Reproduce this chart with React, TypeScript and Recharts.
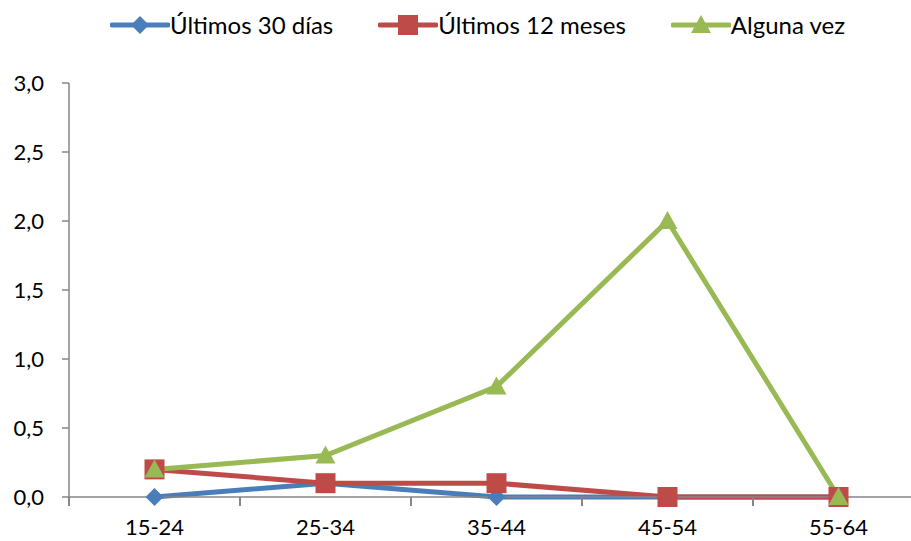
import { LineChart, Line, XAxis, YAxis, Legend } from 'recharts'

const categories = ['15-24', '25-34', '35-44', '45-54', '55-64']
const ultimos30Dias = [0, 0.1, 0, 0, 0]
const ultimos12Meses = [0.2, 0.1, 0.1, 0, 0]
const algunaVez = [0.2, 0.3, 0.8, 2.0, 0]
const yTicks = [0, 0.5, 1, 1.5, 2, 2.5, 3]

const series = [
  { key: 'd30', name: 'Últimos 30 días', values: ultimos30Dias, color: '#4A7EBB', shape: 'diamond' },
  { key: 'm12', name: 'Últimos 12 meses', values: ultimos12Meses, color: '#BE4B48', shape: 'square' },
  { key: 'ever', name: 'Alguna vez', values: algunaVez, color: '#98B954', shape: 'triangle' },
]

const data = categories.map((cat, i) => {
  const row: Record<string, string | number> = { cat }
  series.forEach((s) => {
    row[s.key] = s.values[i]
  })
  return row
})

const FONT = 'Lato, "Open Sans", sans-serif'
const AXIS = '#868686'

const CHART_W = 930
const MARGIN = { top: 43, right: 6, bottom: 0, left: 0 }
const Y_AXIS_W = 69
const PLOT_W = CHART_W - MARGIN.left - MARGIN.right - Y_AXIS_W

function Marker({ cx, cy, shape, color }: { cx: number; cy: number; shape: string; color: string }) {
  if (cx == null || cy == null) return null
  if (shape === 'diamond') {
    const r = 9
    return <path d={`M${cx},${cy - r}L${cx + r},${cy}L${cx},${cy + r}L${cx - r},${cy}Z`} fill={color} />
  }
  if (shape === 'square') {
    const r = 10
    return <rect x={cx - r} y={cy - r} width={2 * r} height={2 * r} fill={color} />
  }
  const r = 10
  return <path d={`M${cx},${cy - r}L${cx + r},${cy + r * 0.8}L${cx - r},${cy + r * 0.8}Z`} fill={color} />
}

// category label plus tick marks at the band boundaries (Excel style)
function CategoryTick(props: any) {
  const { x, y, payload, index } = props
  const half = PLOT_W / categories.length / 2
  const isLast = index === categories.length - 1
  const left = x - half
  const right = x + half
  return (
    <g>
      <path d={`M${left},${y}V${y + 9}`} stroke={AXIS} strokeWidth={2} fill="none" />
      {isLast && <path d={`M${right},${y}V${y + 9}`} stroke={AXIS} strokeWidth={2} fill="none" />}
      <text x={x} y={y + 22} dy="0.71em" textAnchor="middle" fill="#000" fontSize={22} fontFamily={FONT}>
        {payload.value}
      </text>
    </g>
  )
}

function LegendContent() {
  return (
    <div style={{ display: 'flex', alignItems: 'center', fontFamily: FONT, fontSize: 24, color: '#000' }}>
      {series.map((s, i) => (
        <div key={s.key} style={{ display: 'flex', alignItems: 'center', marginRight: i < series.length - 1 ? 45 : 0 }}>
          <svg width={60} height={24}>
            <line x1={2} y1={12} x2={58} y2={12} stroke={s.color} strokeWidth={5} strokeLinecap="round" />
            <Marker cx={30} cy={12} shape={s.shape} color={s.color} />
          </svg>
          <span>{s.name}</span>
        </div>
      ))}
    </div>
  )
}

export default function App() {
  return (
    <div style={{ position: 'fixed', left: 0, top: 0, width: 911, height: 541, overflow: 'hidden', background: '#fff' }}>
      <LineChart width={CHART_W} height={541} data={data} margin={MARGIN}>
        <Legend
          verticalAlign="top"
          height={40}
          content={<LegendContent />}
          wrapperStyle={{ top: 10, left: 110, width: 'auto' }}
        />
        <XAxis
          dataKey="cat"
          scale="band"
          height={44}
          tickLine={false}
          tickSize={0}
          tickMargin={0}
          axisLine={{ stroke: AXIS, strokeWidth: 1.5 }}
          tick={(p: any) => <CategoryTick key={`t-${p.index}`} {...p} />}
          interval={0}
        />
        <YAxis
          width={Y_AXIS_W}
          domain={[0, 3]}
          ticks={yTicks}
          tickFormatter={(v: number) => v.toFixed(1).replace('.', ',')}
          tick={{ fill: '#000', fontSize: 22, fontFamily: FONT }}
          tickSize={7}
          tickMargin={18}
          tickLine={{ stroke: AXIS, strokeWidth: 1.5 }}
          axisLine={{ stroke: AXIS, strokeWidth: 1.5 }}
        />
        {series.map((s) => (
          <Line
            key={s.key}
            dataKey={s.key}
            name={s.name}
            stroke={s.color}
            strokeWidth={5}
            isAnimationActive={false}
            dot={(p: any) => <Marker key={`${s.key}-${p.index}`} cx={p.cx} cy={p.cy} shape={s.shape} color={s.color} />}
            activeDot={false}
          />
        ))}
      </LineChart>
    </div>
  )
}
